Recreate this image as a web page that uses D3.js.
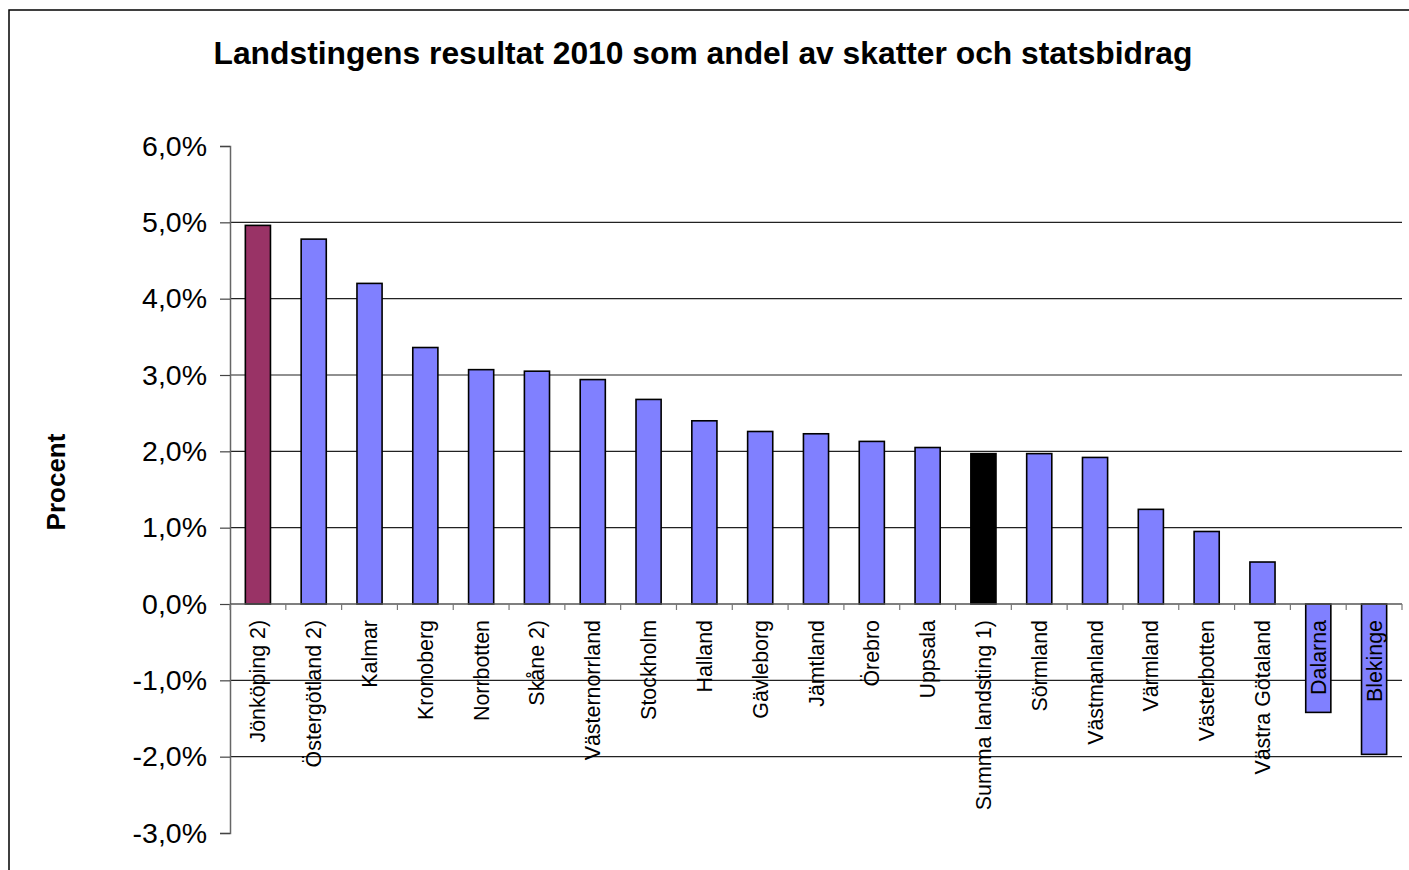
<!DOCTYPE html>
<html lang="sv">
<head>
  <meta charset="UTF-8">
  <title>Landstingens resultat 2010</title>
  <script src="https://cdn.jsdelivr.net/npm/d3@7"></script>
  <style>
    body { margin: 0; background: #fff; }
    svg { display: block; font-family: "Liberation Sans", Arial, sans-serif; }
  </style>
</head>
<body>
<svg></svg>
<script>
  const width = 1409, height = 870
  const margin = {top: 146, right: 7, bottom: 37, left: 230}

  // data
  const categories = ['Jönköping 2)', 'Östergötland 2)', 'Kalmar', 'Kronoberg', 'Norrbotten', 'Skåne 2)',
    'Västernorrland', 'Stockholm', 'Halland', 'Gävleborg', 'Jämtland', 'Örebro', 'Uppsala',
    'Summa landsting 1)', 'Sörmland', 'Västmanland', 'Värmland', 'Västerbotten', 'Västra Götaland',
    'Dalarna', 'Blekinge']
  const values = [4.96, 4.78, 4.20, 3.36, 3.07, 3.05, 2.94, 2.68, 2.40, 2.26, 2.23, 2.13, 2.05,
    1.97, 1.97, 1.92, 1.24, 0.95, 0.55, -1.42, -1.97]
  const yTicks = [-3, -2, -1, 0, 1, 2, 3, 4, 5, 6]

  const title = 'Landstingens resultat 2010 som andel av skatter och statsbidrag'
  const yTitle = 'Procent'

  // special bar colours
  const barColor = d => ({'Jönköping 2)': '#993366', 'Summa landsting 1)': '#000000'}[d] || '#8080ff')

  const svg = d3.select('svg')
      .attr('width', width)
      .attr('height', height)

  // chart frame
  svg.append('rect')
      .attr('x', 9).attr('y', 10)
      .attr('width', width).attr('height', height)
      .attr('fill', 'none')
      .attr('stroke', '#000')
      .attr('stroke-width', 1.5)

  const x = d3.scaleBand()
      .domain(categories)
      .range([margin.left, width - margin.right])

  const y = d3.scaleLinear()
      .domain([-3, 6])
      .range([height - margin.bottom, margin.top])

  // swedish style: comma decimal, plain hyphen for minus
  const fmt = v => (v < 0 ? '-' : '') + d3.format('.1f')(Math.abs(v)).replace('.', ',') + '%'

  // gridlines (not at 0 or the ends)
  svg.append('g')
    .selectAll('line')
    .data(yTicks.filter(t => t !== 0 && t !== -3 && t !== 6))
    .join('line')
      .attr('x1', margin.left).attr('x2', width - margin.right)
      .attr('y1', d => y(d)).attr('y2', d => y(d))
      .attr('stroke', '#222')
      .attr('stroke-width', 1.2)

  // y axis
  const yAxis = svg.append('g')
      .attr('transform', `translate(${margin.left},0)`)
      .call(d3.axisLeft(y).tickValues(yTicks).tickFormat(fmt).tickSize(10).tickPadding(13))
  yAxis.select('.domain').attr('stroke', '#666').attr('stroke-width', 1.5)
  yAxis.selectAll('.tick line').attr('stroke', '#444').attr('stroke-width', 1.2)
  yAxis.selectAll('.tick text')
      .attr('font-size', 28.5)
      .attr('font-family', '"Liberation Sans", Arial, sans-serif')
      .attr('fill', '#000')

  // bars
  const bw = x.bandwidth() * 0.45
  svg.append('g')
    .selectAll('rect')
    .data(categories)
    .join('rect')
      .attr('x', d => x(d) + (x.bandwidth() - bw) / 2)
      .attr('width', bw)
      .attr('y', (d, i) => y(Math.max(0, values[i])))
      .attr('height', (d, i) => Math.abs(y(values[i]) - y(0)))
      .attr('fill', barColor)
      .attr('stroke', '#000')
      .attr('stroke-width', 1.6)

  // x axis line at zero with small ticks below
  const xAxis = svg.append('g')
      .attr('transform', `translate(0,${y(0)})`)
  xAxis.append('line')
      .attr('x1', margin.left).attr('x2', width - margin.right)
      .attr('stroke', '#555').attr('stroke-width', 1.5)
  xAxis.selectAll('.xt')
    .data(categories.map(d => x(d)).concat([width - margin.right]))
    .join('line')
      .attr('class', 'xt')
      .attr('x1', d => d).attr('x2', d => d)
      .attr('y1', 0).attr('y2', 6)
      .attr('stroke', '#777').attr('stroke-width', 1.2)

  // category labels, rotated
  svg.append('g')
    .selectAll('text')
    .data(categories)
    .join('text')
      .attr('transform', d => `translate(${x(d) + x.bandwidth() / 2},620) rotate(-90)`)
      .attr('text-anchor', 'end')
      .attr('dy', '0.35em')
      .attr('font-size', 21.4)
      .attr('fill', '#000')
      .text(d => d)

  // title
  svg.append('text')
      .attr('x', 703)
      .attr('y', 64)
      .attr('text-anchor', 'middle')
      .attr('font-size', 31.8)
      .attr('font-weight', 'bold')
      .text(title)

  // y title
  svg.append('text')
      .attr('transform', `translate(65,482) rotate(-90)`)
      .attr('text-anchor', 'middle')
      .attr('font-size', 26)
      .attr('font-weight', 'bold')
      .text(yTitle)
</script>
</body>
</html>
